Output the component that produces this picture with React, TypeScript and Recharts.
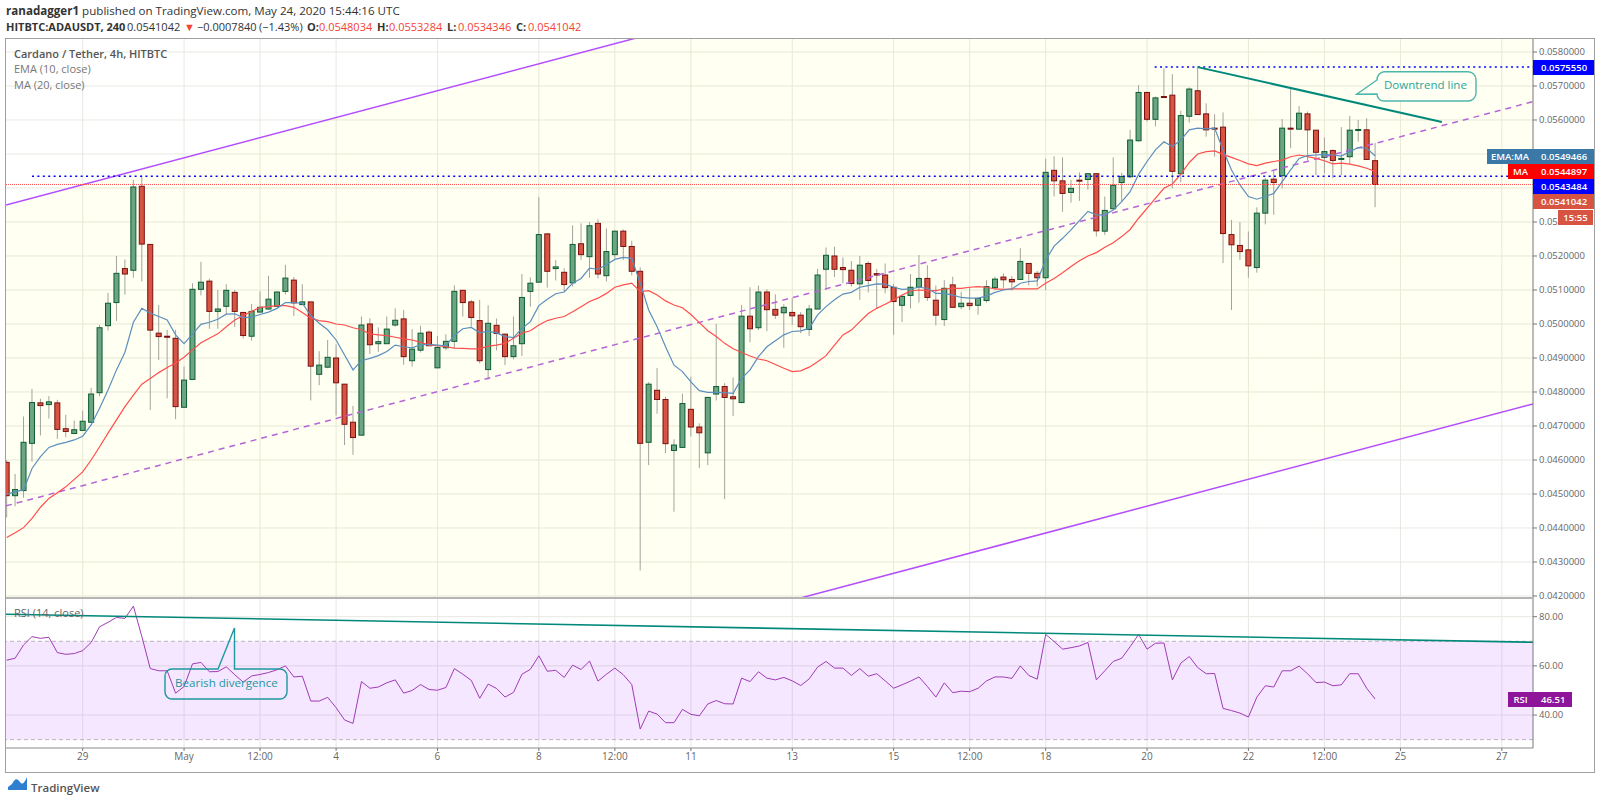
import {
  Area,
  Bar,
  CartesianGrid,
  ComposedChart,
  Line,
  ReferenceArea,
  ReferenceLine,
  XAxis,
  YAxis,
} from 'recharts'

// candle values are in units of 0.0001, first candle is 9 bars before the "29" tick
const opens = [
  459.3, 449.5, 451.0, 464.9, 476.8, 476.3, 476.8, 469.2, 467.8, 468.7, 471.1, 479.8, 499.5, 506.3, 516.3, 515.8, 540.5, 523.4, 497.3, 496.4,
  495.8, 475.5, 483.7, 510.2, 512.6, 503.7, 505.2, 509.3, 503.4, 496.4, 503.5, 504.4, 505.2, 509.6, 512.9, 505.7, 506.5, 485.2, 487.3, 490.0,
  482.3, 471.1, 467.3, 500.0, 494.2, 494.2, 499.7, 501.5, 489.2, 492.3, 497.6, 487.1, 493.0, 494.9, 509.9, 506.5, 501.0, 486.6, 499.6, 497.0,
  490.4, 494.2, 509.6, 512.3, 526.5, 516.3, 515.2, 512.1, 523.6, 519.8, 529.6, 514.2, 520.4, 527.3, 522.8, 515.5, 465.2, 480.5, 477.8, 462.8,
  463.7, 474.9, 469.7, 462.1, 479.4, 481.6, 478.6, 476.9, 502.3, 498.9, 509.4, 504.3, 503.3, 503.4, 502.6, 498.4, 504.4, 516.1, 520.0, 516.6,
  515.8, 511.8, 517.8, 514.8, 514.4, 510.8, 505.5, 508.4, 510.8, 513.4, 507.0, 501.3, 511.5, 505.1, 506.1, 505.5, 506.9, 510.7, 513.8, 513.1,
  513.1, 517.8, 514.9, 513.6, 545.2, 542.1, 538.7, 542.3, 542.5, 544.2, 527.3, 533.9, 541.6, 543.3, 553.9, 568.1, 560.2, 566.9, 567.3, 544.2,
  561.1, 568.6, 561.8, 557.6, 557.9, 526.3, 523.1, 521.8, 516.6, 532.6, 542.6, 543.6, 557.6, 557.3, 561.8, 557.0, 549.0, 551.0, 548.4, 549.2,
  557.0, 557.1, 548.034,
]
const closes = [
  449.5, 451.3, 465.2, 476.9, 476.0, 477.1, 469.0, 468.4, 468.9, 471.4, 479.4, 498.9, 506.1, 514.9, 514.7, 540.3, 523.5, 498.2, 496.3, 496.3,
  475.7, 483.5, 510.2, 512.3, 503.7, 504.4, 509.9, 503.7, 496.6, 503.7, 504.9, 507.3, 509.4, 513.5, 506.2, 506.5, 487.6, 487.9, 490.2, 482.7,
  470.5, 466.6, 499.7, 493.9, 494.8, 498.5, 501.1, 490.4, 492.6, 497.3, 493.6, 493.1, 494.9, 509.6, 506.3, 501.9, 489.2, 500.2, 497.2, 490.4,
  493.6, 507.8, 512.0, 526.3, 515.5, 516.8, 511.6, 523.4, 520.4, 528.9, 514.7, 521.3, 527.3, 522.8, 515.5, 464.9, 482.3, 477.8, 464.8, 464.4,
  476.6, 469.7, 468.0, 478.4, 481.6, 478.4, 478.0, 502.3, 498.6, 509.4, 504.2, 502.6, 504.9, 502.4, 499.2, 504.4, 514.4, 520.2, 516.1, 516.0,
  511.9, 517.3, 512.8, 514.4, 510.7, 506.6, 508.1, 510.8, 513.4, 507.8, 502.6, 510.5, 504.9, 506.1, 505.4, 507.5, 511.0, 513.2, 513.0, 512.4,
  518.4, 514.9, 513.6, 544.6, 542.1, 538.4, 539.9, 542.1, 544.2, 527.4, 533.4, 540.8, 543.4, 554.1, 568.1, 560.2, 566.5, 566.7, 544.9, 561.3,
  569.1, 561.6, 557.1, 557.4, 526.6, 523.3, 521.3, 517.1, 532.6, 542.3, 541.6, 557.6, 557.4, 562.0, 557.1, 550.5, 550.7, 548.1, 548.7, 557.0,
  557.2, 548.4, 541.042,
]
const highs = [
  460.0, 455.9, 472.8, 480.9, 478.0, 478.8, 477.7, 473.3, 471.6, 474.5, 481.2, 499.7, 509.2, 520.0, 519.0, 542.4, 543.7, 523.5, 505.6, 498.3,
  498.3, 487.5, 512.0, 518.3, 513.3, 510.0, 511.7, 510.0, 503.5, 505.9, 509.6, 514.2, 509.6, 517.4, 513.8, 511.7, 506.5, 492.0, 495.3, 494.0,
  482.4, 475.9, 502.2, 501.7, 499.0, 502.2, 504.6, 504.1, 498.5, 499.5, 498.1, 496.5, 497.0, 511.4, 510.0, 507.1, 507.1, 505.5, 501.6, 497.2,
  502.2, 514.7, 513.7, 537.3, 526.7, 518.8, 516.4, 529.0, 529.6, 530.0, 530.8, 528.1, 527.4, 527.8, 524.5, 516.7, 482.9, 487.1, 478.6, 466.1,
  479.5, 484.5, 470.8, 478.6, 500.0, 482.6, 484.3, 505.6, 510.8, 511.3, 510.2, 508.7, 505.8, 507.6, 503.5, 505.6, 516.2, 522.5, 522.7, 519.6,
  518.5, 520.0, 518.4, 516.2, 517.8, 511.8, 508.5, 514.7, 520.3, 517.3, 511.3, 512.9, 513.9, 509.5, 510.8, 507.8, 512.9, 513.9, 514.9, 514.1,
  522.3, 517.8, 515.6, 548.6, 549.3, 549.0, 542.4, 544.6, 544.4, 544.2, 537.5, 549.0, 544.5, 557.1, 570.3, 568.3, 566.9, 575.2, 573.5, 562.7,
  569.6, 575.7, 564.9, 561.7, 562.2, 530.6, 530.0, 527.2, 534.3, 542.9, 545.3, 560.3, 569.5, 564.1, 562.5, 557.1, 554.9, 551.4, 557.9, 561.2,
  560.0, 560.5, 553.284,
]
const lows = [
  443.1, 446.4, 448.9, 459.5, 467.2, 472.2, 466.2, 466.7, 467.8, 468.7, 470.8, 478.7, 498.1, 500.9, 508.6, 513.6, 512.5, 474.7, 489.4, 478.1,
  472.0, 475.5, 483.7, 508.4, 498.6, 498.6, 502.9, 499.1, 495.7, 495.1, 503.5, 504.1, 505.2, 508.7, 502.3, 505.7, 477.5, 482.0, 487.0, 473.1,
  464.4, 461.5, 467.3, 491.2, 491.8, 494.2, 499.2, 488.0, 487.5, 491.6, 493.6, 487.1, 492.3, 492.9, 502.2, 499.2, 488.4, 483.7, 492.2, 487.9,
  489.6, 490.6, 505.1, 512.3, 510.7, 512.8, 509.5, 511.0, 518.8, 513.6, 513.4, 512.5, 519.2, 518.8, 514.3, 427.5, 458.5, 473.6, 462.0, 444.8,
  463.7, 466.9, 457.6, 458.5, 477.5, 448.5, 472.9, 476.7, 494.6, 498.2, 497.9, 501.5, 493.0, 499.7, 497.3, 496.5, 504.4, 510.0, 513.8, 512.0,
  511.0, 507.1, 509.3, 504.6, 509.0, 496.8, 500.6, 504.6, 506.3, 506.8, 499.6, 499.4, 504.9, 504.3, 504.1, 502.7, 506.3, 510.0, 510.5, 509.8,
  513.1, 511.3, 511.0, 510.0, 537.5, 533.0, 535.7, 536.2, 539.5, 525.7, 526.2, 533.9, 536.0, 542.9, 553.6, 559.5, 558.1, 566.7, 539.9, 541.7,
  559.2, 561.6, 555.1, 549.2, 517.9, 504.1, 518.8, 513.6, 515.1, 529.3, 532.1, 539.9, 551.7, 557.1, 548.2, 543.8, 544.3, 542.9, 543.8, 547.1,
  553.6, 548.4, 534.346,
]
const emaValues = [
  449.9, 450.7, 451.2, 457.5, 461.0, 463.7, 464.6, 465.2, 465.9, 467.0, 470.3, 475.2, 480.6, 486.5, 491.7, 500.5, 504.6, 503.2, 502.2, 501.2,
  496.8, 494.2, 497.0, 499.9, 500.5, 501.4, 502.9, 503.0, 501.9, 502.0, 502.8, 503.5, 504.6, 506.3, 506.3, 506.1, 502.5, 500.2, 498.3, 495.3,
  490.9, 486.5, 489.2, 489.9, 490.7, 491.9, 493.8, 493.3, 493.0, 493.9, 494.0, 493.8, 493.6, 496.6, 498.6, 499.0, 497.4, 497.9, 497.4, 496.3,
  496.0, 498.7, 500.7, 505.4, 507.3, 508.9, 509.4, 512.0, 513.4, 516.4, 516.1, 517.4, 519.0, 519.6, 519.3, 512.0, 504.1, 499.2, 493.3, 487.9,
  486.0, 483.0, 480.4, 479.9, 479.9, 479.8, 479.6, 484.0, 486.5, 490.4, 493.3, 495.1, 496.8, 497.8, 498.0, 498.7, 502.7, 505.1, 507.1, 508.8,
  509.3, 510.8, 511.3, 511.8, 511.7, 510.8, 510.2, 510.3, 510.8, 510.5, 509.0, 509.0, 508.5, 507.8, 507.6, 507.6, 508.2, 509.3, 510.0, 510.3,
  512.0, 512.5, 512.7, 518.8, 522.9, 525.2, 527.7, 530.4, 533.1, 532.1, 532.1, 533.5, 536.0, 538.9, 544.0, 547.8, 551.2, 553.6, 552.2, 554.1,
  557.1, 557.6, 557.4, 557.6, 551.2, 545.3, 540.9, 537.5, 536.7, 537.5, 538.4, 541.9, 545.3, 548.7, 549.5, 549.7, 549.9, 549.7, 549.4, 550.7,
  551.9, 551.7, 549.466,
]
const maValues = [
  437.2, 438.6, 440.1, 442.8, 446.1, 448.7, 450.4, 452.1, 454.3, 456.5, 460.0, 463.9, 467.9, 471.8, 475.7, 479.1, 482.3, 484.0, 485.7, 487.2,
  488.5, 490.2, 492.4, 494.5, 495.8, 497.1, 499.2, 501.2, 502.4, 503.7, 504.9, 505.1, 505.4, 505.4, 504.9, 503.4, 501.7, 501.0, 500.7, 500.0,
  499.7, 498.9, 498.3, 497.1, 496.8, 496.6, 496.1, 495.6, 495.3, 494.6, 493.8, 493.6, 493.3, 492.9, 492.8, 492.7, 492.7, 493.5, 493.8, 494.3,
  495.8, 497.3, 498.0, 499.7, 501.0, 501.7, 502.2, 503.6, 505.1, 506.6, 507.6, 509.0, 510.8, 511.5, 512.0, 509.5, 509.8, 508.5, 506.8, 505.6,
  504.8, 502.8, 500.4, 498.0, 496.3, 494.3, 492.7, 491.6, 490.6, 489.7, 489.2, 488.1, 487.0, 486.0, 486.2, 487.3, 488.9, 490.7, 493.8, 496.8,
  498.2, 500.7, 503.1, 504.6, 505.8, 507.1, 508.5, 509.7, 510.0, 509.8, 509.8, 510.3, 510.5, 510.5, 510.8, 511.0, 510.8, 510.3, 510.2, 510.3,
  510.3, 510.3, 510.3, 512.0, 513.4, 515.1, 516.9, 518.6, 520.0, 521.0, 522.6, 523.9, 525.7, 527.8, 531.1, 534.0, 537.0, 539.9, 541.2, 544.1,
  547.5, 550.0, 550.7, 550.9, 549.9, 549.0, 548.1, 547.1, 546.6, 547.3, 547.8, 548.2, 549.2, 549.7, 549.2, 548.7, 548.0, 547.1, 547.3, 547.0,
  546.5, 545.8, 544.897,
]
const rsiValues = [
  62.3, 63.1, 68.5, 71.9, 71.2, 71.6, 65.4, 64.7, 65.0, 66.2, 69.5, 75.9, 77.7, 79.7, 79.3, 84.3, 71.9, 58.9, 58.0, 58.0,
  48.9, 51.6, 60.8, 61.4, 57.6, 57.7, 59.6, 56.4, 53.4, 55.9, 56.5, 57.3, 58.4, 60.0, 55.5, 55.8, 45.7, 45.7, 47.2, 43.0,
  38.0, 36.6, 53.6, 50.9, 51.4, 53.1, 54.3, 48.9, 50.0, 52.4, 50.4, 50.1, 51.2, 58.9, 56.6, 54.1, 46.8, 52.6, 50.8, 47.3,
  49.2, 56.6, 58.6, 64.1, 57.8, 58.2, 55.3, 60.3, 58.5, 62.0, 53.8, 56.6, 59.1, 56.4, 52.4, 34.3, 41.6, 40.4, 36.9, 36.9,
  42.3, 40.3, 39.7, 44.5, 45.9, 44.6, 44.5, 55.0, 53.6, 57.6, 55.0, 54.3, 55.3, 53.9, 52.0, 54.7, 59.5, 61.8, 59.1, 59.1,
  56.1, 58.9, 55.8, 56.8, 53.9, 50.9, 52.3, 53.8, 55.5, 51.6, 47.3, 53.1, 49.1, 49.7, 49.5, 50.9, 53.9, 55.5, 55.5, 54.9,
  60.0, 56.1, 54.6, 72.8, 69.9, 66.8, 67.4, 68.1, 69.5, 54.3, 58.0, 61.8, 63.1, 67.8, 72.8, 66.8, 69.2, 69.3, 54.3, 61.1,
  63.8, 59.3, 56.8, 56.9, 42.7, 41.8, 40.8, 39.2, 47.3, 51.9, 51.4, 58.0, 58.0, 59.9, 56.8, 53.2, 53.4, 51.9, 52.3, 56.8,
  56.8, 50.9, 46.51,
]

const FIRST_BAR = -9
const BODY_WIDTH = 5
const X_DOMAIN: [number, number] = [-9.08, 171.69]
const PRICE_DOMAIN: [number, number] = [0.041941, 0.058382]
const RSI_DOMAIN: [number, number] = [26.6, 87.6]

const xTickBars = [0, 12, 21, 30, 42, 54, 63, 72, 84, 96, 105, 114, 126, 138, 147, 156, 168]
const xTickLabels = ['29', 'May', '12:00', '4', '6', '8', '12:00', '11', '13', '15', '12:00', '18', '20', '22', '12:00', '25', '27']
const priceTicks = [
  0.042, 0.043, 0.044, 0.045, 0.046, 0.047, 0.048, 0.049, 0.05, 0.051, 0.052, 0.053, 0.054, 0.055, 0.056, 0.057, 0.058,
]
const rsiTicks = [40, 60, 80]

const upperRail = [0.0535, 0.0654]
const middleRail = [0.04465, 0.05654]
const lowerRail = [0.03575, 0.04765]
const railBars = X_DOMAIN
const downtrendBars = [132, 160.9]
const downtrendPrices = [0.057555, 0.05594]
const rsiTrendValues = [81, 69.6]

const rows = opens.map((o, i) => ({
  k: FIRST_BAR + i,
  open: o / 10000,
  close: closes[i] / 10000,
  high: highs[i] / 10000,
  low: lows[i] / 10000,
  wick: [lows[i] / 10000, highs[i] / 10000],
  ema: emaValues[i] / 10000,
  ma: maValues[i] / 10000,
  rsi: rsiValues[i],
}))

const twoPoints = (a: number[], b: number[]) => a.map((k, i) => ({ k, v: b[i] }))
const channelBand = railBars.map((k, i) => ({ k, band: [lowerRail[i], upperRail[i]] }))

const TEAL = '#00897b'
const GRID = '#e8e8e2'
const LABEL = '#666'
const FONT = '"Open Sans", "Noto Sans", sans-serif'

const Candle = (props: any) => {
  const { x, y, width, height, index } = props
  const row = rows[index]
  if (height == null || !row) return null
  const { open, close, high, low } = row
  const toY = (v: number) => y + ((high - v) / (high - low)) * height
  const up = close >= open
  const top = toY(Math.max(open, close))
  const bottom = toY(Math.min(open, close))
  const cx = x + (width || 0) / 2
  return (
    <g>
      <line x1={cx} x2={cx} y1={y} y2={y + height} stroke="#a3a39d" strokeWidth={1} />
      <rect
        x={cx - BODY_WIDTH / 2}
        y={top}
        width={BODY_WIDTH}
        height={Math.max(bottom - top, 1)}
        fill={up ? '#6ba583' : '#d75442'}
        stroke={up ? '#0b5d2f' : '#7a0f0f'}
        strokeWidth={1}
      />
    </g>
  )
}

const Tag = ({ left, top, width, bg, center, children }: any) => (
  <div
    style={{
      position: 'absolute',
      left,
      top,
      width: center ? width : width - 8,
      height: 15,
      lineHeight: '15px',
      paddingLeft: center ? 0 : 8,
      background: bg,
      color: '#fff',
      fontSize: 9.5,
      fontWeight: 600,
      textAlign: center ? 'center' : 'left',
    }}
  >
    {children}
  </div>
)

const Overlay = ({ left, top, color = '#555', size = 11, weight = 400, children }: any) => (
  <div
    style={{
      position: 'absolute',
      left,
      top,
      color,
      fontSize: size,
      fontWeight: weight,
      lineHeight: '14px',
      whiteSpace: 'nowrap',
    }}
  >
    {children}
  </div>
)

const RED = '#f44336'
const HEAD = '#333'

export default function App() {
  return (
    <div style={{ position: 'absolute', left: 0, top: 0, width: 1600, height: 805, background: '#fff', overflow: 'hidden', fontFamily: FONT }}>
      <Overlay left={6} top={4} color={HEAD} size={11.6}>
        <b>ranadagger1</b> published on TradingView.com, May 24, 2020 15:44:16 UTC
      </Overlay>
      <Overlay left={6} top={20} color={HEAD} size={11} weight={700}>HITBTC:ADAUSDT, 240</Overlay>
      <Overlay left={127} top={20} color={HEAD}>0.0541042</Overlay>
      <Overlay left={184} top={20} color={RED}>▼</Overlay>
      <Overlay left={197} top={20} color={HEAD}>−0.0007840</Overlay>
      <Overlay left={259} top={20} color={HEAD}>(−1.43%)</Overlay>
      <Overlay left={307} top={20} color={HEAD} weight={700}>O:</Overlay>
      <Overlay left={319} top={20} color={RED}>0.0548034</Overlay>
      <Overlay left={377} top={20} color={HEAD} weight={700}>H:</Overlay>
      <Overlay left={389} top={20} color={RED}>0.0553284</Overlay>
      <Overlay left={447} top={20} color={HEAD} weight={700}>L:</Overlay>
      <Overlay left={458} top={20} color={RED}>0.0534346</Overlay>
      <Overlay left={516} top={20} color={HEAD} weight={700}>C:</Overlay>
      <Overlay left={528} top={20} color={RED}>0.0541042</Overlay>

      <div style={{ position: 'absolute', left: 0, top: 0 }}>
        <ComposedChart width={1600} height={612} data={rows} margin={{ top: 39, right: 6, bottom: 14, left: 6 }}>
          <Area
            data={channelBand}
            dataKey="band"
            type="linear"
            stroke="none"
            fill="#ffff00"
            fillOpacity={0.05}
            dot={false}
            activeDot={false}
            isAnimationActive={false}
          />
          <CartesianGrid stroke={GRID} verticalValues={xTickBars} horizontalValues={priceTicks} />
          <XAxis dataKey="k" type="number" domain={X_DOMAIN} allowDataOverflow hide ticks={xTickBars} />
          <YAxis
            orientation="right"
            type="number"
            domain={PRICE_DOMAIN}
            allowDataOverflow
            ticks={priceTicks}
            interval={0}
            width={61}
            tickFormatter={(v: number) => v.toFixed(7)}
            tick={{ fill: LABEL, fontSize: 9.5 }}
            tickSize={4}
            tickLine={{ stroke: '#787878' }}
            axisLine={{ stroke: '#787878' }}
          />
          <Line data={twoPoints(railBars, upperRail)} dataKey="v" stroke="#b44dff" strokeWidth={1.5} dot={false} isAnimationActive={false} />
          <Line data={twoPoints(railBars, lowerRail)} dataKey="v" stroke="#b44dff" strokeWidth={1.5} dot={false} isAnimationActive={false} />
          <Line
            data={twoPoints(railBars, middleRail)}
            dataKey="v"
            stroke="#b565d8"
            strokeWidth={1.5}
            strokeDasharray="6 5"
            dot={false}
            isAnimationActive={false}
          />
          <Bar dataKey="wick" barSize={6} shape={Candle} isAnimationActive={false} />
          <Line dataKey="ma" stroke="#ff4d4d" strokeWidth={1.2} dot={false} isAnimationActive={false} />
          <Line dataKey="ema" stroke="#5b8fbd" strokeWidth={1.2} dot={false} isAnimationActive={false} />
          <Line
            data={twoPoints([126.9, X_DOMAIN[1]], [0.057555, 0.057555])}
            dataKey="v"
            stroke="#0000ff"
            strokeWidth={1.5}
            strokeDasharray="2 3.4"
            dot={false}
            isAnimationActive={false}
          />
          <Line
            data={twoPoints([-6, X_DOMAIN[1]], [0.0543484, 0.0543484])}
            dataKey="v"
            stroke="#0000ff"
            strokeWidth={1.5}
            strokeDasharray="2 3.4"
            dot={false}
            isAnimationActive={false}
          />
          <Line
            data={twoPoints(X_DOMAIN, [0.0541042, 0.0541042])}
            dataKey="v"
            stroke="#ff4d4d"
            strokeWidth={1}
            strokeDasharray="1 1"
            dot={false}
            isAnimationActive={false}
          />
          <Line data={twoPoints(downtrendBars, downtrendPrices)} dataKey="v" stroke={TEAL} strokeWidth={2} dot={false} isAnimationActive={false} />
        </ComposedChart>
      </div>

      <div style={{ position: 'absolute', left: 0, top: 598 }}>
        <ComposedChart width={1600} height={174} data={rows} margin={{ top: 0, right: 6, bottom: 0, left: 6 }}>
          <ReferenceArea y1={30} y2={70} fill="#9c27ff" fillOpacity={0.11} stroke="none" />
          <CartesianGrid stroke={GRID} verticalValues={xTickBars} horizontalValues={rsiTicks} />
          <XAxis
            dataKey="k"
            type="number"
            domain={X_DOMAIN}
            allowDataOverflow
            ticks={xTickBars}
            interval={0}
            height={24}
            tickFormatter={(v: number) => xTickLabels[xTickBars.indexOf(v)]}
            tick={{ fill: LABEL, fontSize: 10 }}
            tickSize={3}
            tickLine={{ stroke: '#787878' }}
            axisLine={{ stroke: '#8a8a8a' }}
          />
          <YAxis
            orientation="right"
            type="number"
            domain={RSI_DOMAIN}
            allowDataOverflow
            ticks={rsiTicks}
            interval={0}
            width={61}
            tickFormatter={(v: number) => v.toFixed(2)}
            tick={{ fill: LABEL, fontSize: 9.5 }}
            tickSize={4}
            tickLine={{ stroke: '#787878' }}
            axisLine={{ stroke: '#787878' }}
          />
          <ReferenceLine y={70} stroke="#bdb3bd" strokeDasharray="4 3" />
          <ReferenceLine y={30} stroke="#bdb3bd" strokeDasharray="4 3" />
          <Line dataKey="rsi" stroke="#a13bb5" strokeWidth={1} dot={false} isAnimationActive={false} />
          <Line data={twoPoints(railBars, rsiTrendValues)} dataKey="v" stroke={TEAL} strokeWidth={1.6} dot={false} isAnimationActive={false} />
        </ComposedChart>
      </div>

      {/* frame and pane separators */}
      <div style={{ position: 'absolute', left: 5, top: 38, width: 1588, height: 733, border: '1.5px solid #a0a0a0', pointerEvents: 'none' }} />
      <div style={{ position: 'absolute', left: 6, top: 597, width: 1527, height: 2, background: '#b5b5b5' }} />

      <Overlay left={14} top={47} size={11} weight={600}>
        Cardano / Tether, 4h, HITBTC
      </Overlay>
      <Overlay left={14} top={62} color="#777">
        EMA (10, close)
      </Overlay>
      <Overlay left={14} top={77.5} color="#777">
        MA (20, close)
      </Overlay>
      <Overlay left={14} top={606} color="#666">
        RSI (14, close)
      </Overlay>

      {/* drawn callouts */}
      <svg width={1600} height={805} style={{ position: 'absolute', left: 0, top: 0, pointerEvents: 'none' }}>
        <path
          d="M1384 71.7 H1468 a8 8 0 0 1 8 8 V93 a8 8 0 0 1 -8 8 H1384 a7 7 0 0 1 -7 -7 L1356.7 94.3 L1377 80 a8 8 0 0 1 7 -8.3 Z"
          fill="#fffff4"
          stroke="#4db6ac"
          strokeWidth={1.4}
        />
        <path
          d="M172 669 H218 L234.5 628 V669 H280 a7 7 0 0 1 7 7 V692 a7 7 0 0 1 -7 7 H172 a7 7 0 0 1 -7 -7 V676 a7 7 0 0 1 7 -7 Z"
          fill="none"
          stroke="#1e98a0"
          strokeWidth={1.4}
        />
        <path d="M12 784 C15 778 17 778 20 782 C22 785 24 784 27 777 L27 790 L8 790 L8 787 Z" fill="#2f7fd1" />
      </svg>
      <Overlay left={1384} top={78} color="#26a69a" size={11.5}>
        Downtrend line
      </Overlay>
      <Overlay left={175} top={676} color="#1e98a0" size={11.6}>
        Bearish divergence
      </Overlay>
      <Overlay left={31} top={781} color="#555" size={11.5} weight={600}>
        TradingView
      </Overlay>

      {/* price scale tags */}
      <Tag left={1533} top={60} width={61} bg="#0000ff">0.0575550</Tag>
      <Tag left={1487} top={149} width={46} bg="#3a78a8" center>EMA:MA</Tag>
      <Tag left={1533} top={149} width={61} bg="#3a78a8">0.0549466</Tag>
      <Tag left={1508} top={164} width={25} bg="#ff0000" center>MA</Tag>
      <Tag left={1533} top={164} width={61} bg="#ff0000">0.0544897</Tag>
      <Tag left={1533} top={179} width={61} bg="#0000ff">0.0543484</Tag>
      <Tag left={1533} top={194} width={61} bg="#d75442">0.0541042</Tag>
      <Tag left={1558} top={210} width={35} bg="#d75442" center>15:55</Tag>
      <Tag left={1508} top={692} width={25} bg="#8e1599" center>RSI</Tag>
      <Tag left={1533} top={692} width={39} bg="#8e1599">46.51</Tag>
    </div>
  )
}
